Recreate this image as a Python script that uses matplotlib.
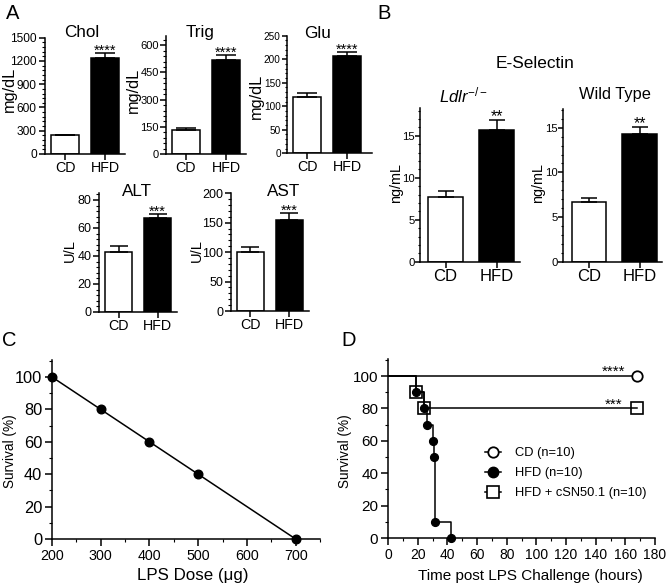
import numpy as np
import matplotlib
matplotlib.use('Agg')
from matplotlib import pyplot as plt
from matplotlib.ticker import MultipleLocator
from matplotlib.lines import Line2D

plt.rcParams['font.family'] = ['Liberation Sans', 'DejaVu Sans']
plt.rcParams['mathtext.fontset'] = 'custom'
plt.rcParams['mathtext.rm'] = 'Liberation Sans'
plt.rcParams['mathtext.it'] = 'Liberation Sans:italic'

#---------------
# Data
#---------------
groups = ['CD', 'HFD']

chol = [245, 1242]
chol_err = [6, 57]
trig = [132, 517]
trig_err = [9, 28]
glu = [119, 207]
glu_err = [8.5, 8]
alt = [43, 67]
alt_err = [4, 3]
ast = [100.5, 154.5]
ast_err = [7.5, 11.5]

esel_ldlr = [7.7, 15.7]
esel_ldlr_err = [0.75, 1.2]
esel_wt = [6.7, 14.3]
esel_wt_err = [0.45, 0.8]

# panel C: dose response
lps_dose = [200, 300, 400, 500, 700]
lps_surv = [100, 80, 60, 40, 0]

# panel D: survival curves (time in hours, survival in %)
cd_t = [0, 168]
cd_s = [100, 100]
hfd_t = [0, 18.9, 24.5, 26, 30, 31, 31.8, 42.3]
hfd_s = [100, 90, 80, 70, 60, 50, 10, 0]
csn_t = [0, 18.9, 24.5, 168]
csn_s = [100, 90, 80, 80]

#---------------
# Figure helpers
#---------------
W, H = 668, 587
fig = plt.figure(figsize=(W / 100, H / 100), dpi=100)
LW = 1.1


def px_axes(left, right, top, bottom):
    return fig.add_axes([left / W, 1 - bottom / H, (right - left) / W, (bottom - top) / H])


def style_axes(ax, tick_fs, tlen=5, pad=2):
    for s in ['top', 'right']:
        ax.spines[s].set_visible(False)
    for s in ['left', 'bottom']:
        ax.spines[s].set_linewidth(LW)
    ax.tick_params(which='major', direction='out', length=tlen, width=LW, labelsize=tick_fs, pad=pad)
    ax.tick_params(which='minor', direction='out', length=tlen / 2, width=0.8)


def bar_panel(box, vals, errs, stars, ylim, major, minor, tick_fs, cat_fs, star_fs,
              cap=7, width=0.68, xlim=(-0.5, 1.5), tlen=5, pad=2):
    ax = px_axes(*box)
    x = np.arange(len(vals))
    ax.bar(x, vals, width, color=['white', 'black'], edgecolor='black', linewidth=LW, zorder=2)
    ax.errorbar(x, vals, yerr=[np.zeros(len(errs)), errs], fmt='none', ecolor='black',
                elinewidth=LW, capsize=cap, capthick=LW, zorder=3)
    for i in range(len(vals)):
        if stars[i]:
            ax.annotate(stars[i], (x[i], vals[i] + errs[i]), xytext=(0, -1),
                        textcoords='offset points', ha='center', va='baseline', fontsize=star_fs)
    ax.set_xlim(*xlim)
    ax.set_ylim(*ylim)
    ax.yaxis.set_major_locator(MultipleLocator(major))
    ax.yaxis.set_minor_locator(MultipleLocator(minor))
    style_axes(ax, tick_fs, tlen, pad)
    ax.set_xticks(x)
    ax.set_xticklabels(groups, fontsize=cat_fs)
    ax.tick_params(axis='x', length=4, pad=1)
    return ax


#===============
# Panel A
#===============
fig.text(6 / W, 1 - 4 / H, 'A', fontsize=14.5, va='top', ha='left')

bar_panel((45, 125, 37.7, 154), chol, chol_err, ['', '****'], (0, 1500), 300, 60, 8.6, 10.3, 10.5,
          tlen=4.5, pad=1.5)
bar_panel((166, 246, 36.2, 154), trig, trig_err, ['', '****'], (0, 650), 150, 30, 8.0, 10.3, 10.5,
          tlen=4, pad=1)
bar_panel((287, 372, 35.7, 153.3), glu, glu_err, ['', '****'], (0, 250), 50, 10, 7.2, 10.3, 10.5,
          xlim=(-0.5, 1.625), tlen=3.5, pad=1)
bar_panel((99, 177, 193, 312), alt, alt_err, ['', '***'], (0, 85), 20, 4, 9, 10.3, 10.5, cap=6.5,
          tlen=4, pad=1.5)
bar_panel((231, 309, 193.3, 311), ast, ast_err, ['', '***'], (0, 200), 50, 10, 9, 10.3, 10.5, cap=6.5,
          tlen=4, pad=1.5)

for xc, yb, t in [(81.7, 37, 'Chol'), (200, 37, 'Trig'), (318, 38, 'Glu'),
                  (137, 196, 'ALT'), (284, 196, 'AST')]:
    fig.text(xc / W, 1 - yb / H, t, fontsize=12.3, ha='center', va='baseline')

for xc, yc, t, fs in [(9, 89, 'mg/dL', 11.8), (133, 90, 'mg/dL', 11.8), (256, 96, 'mg/dL', 11.8),
                      (70, 250.5, 'U/L', 10.5), (197, 250.5, 'U/L', 10.5)]:
    fig.text(xc / W, 1 - yc / H, t, fontsize=fs, rotation=90, ha='center', va='center')

#===============
# Panel B
#===============
fig.text(377 / W, 1 - 4 / H, 'B', fontsize=14.5, va='top', ha='left')
bar_panel((420, 519.5, 108, 261.7), esel_ldlr, esel_ldlr_err, ['', '**'], (0, 18.3), 5, 1,
          8.2, 12, 11.5, cap=6, xlim=(-0.5, 1.45), tlen=3.5, pad=0.5)
bar_panel((563, 662, 109, 261.7), esel_wt, esel_wt_err, ['', '**'], (0, 17.1), 5, 1,
          8.2, 12, 11.5, cap=6, xlim=(-0.51, 1.44), tlen=3.5, pad=0.5)

fig.text(535 / W, 1 - 63 / H, 'E-Selectin', fontsize=12.4, ha='center', va='center')
fig.text(463 / W, 1 - 95 / H, r'$Ldlr^{-/-}$', fontsize=12, ha='center', va='center')
fig.text(615 / W, 1 - 95 / H, 'Wild Type', fontsize=11.8, ha='center', va='center')
for xc in [396, 538]:
    fig.text(xc / W, 1 - 183 / H, 'ng/mL', fontsize=10.4, rotation=90, ha='center', va='center')

#===============
# Panel C
#===============
fig.text(2 / W, 1 - 331 / H, 'C', fontsize=14.5, va='top', ha='left')
axc = px_axes(52, 320, 360, 539)
axc.plot(lps_dose, lps_surv, color='black', lw=LW, marker='o', ms=6.2, clip_on=False, zorder=3)
axc.set_xlim(200, 750)
axc.set_ylim(0, 110.5)
axc.xaxis.set_major_locator(MultipleLocator(100))
axc.xaxis.set_minor_locator(MultipleLocator(50))
axc.yaxis.set_major_locator(MultipleLocator(20))
axc.yaxis.set_minor_locator(MultipleLocator(10))
style_axes(axc, 11.8)
axc.tick_params(axis='x', labelsize=10.3)
axc.set_xticks([200, 300, 400, 500, 600, 700])
fig.text(192.5 / W, 1 - 580 / H, 'LPS Dose (\u03bcg)', fontsize=12.2, ha='center', va='baseline')
fig.text(10 / W, 1 - 451 / H, 'Survival (%)', fontsize=9.8, rotation=90, ha='center', va='center')

#===============
# Panel D
#===============
fig.text(341 / W, 1 - 331 / H, 'D', fontsize=14.5, va='top', ha='left')
axd = px_axes(388, 655, 359, 538)
axd.step(cd_t, cd_s, where='post', color='black', lw=LW, zorder=2)
axd.step(csn_t, csn_s, where='post', color='black', lw=LW, zorder=2)
axd.step(hfd_t, hfd_s, where='post', color='black', lw=LW, zorder=2)
axd.plot(csn_t[1:], csn_s[1:], ls='none', marker='s', ms=8, mfc='none', mec='black', mew=1.2,
         clip_on=False, zorder=3)
axd.plot(cd_t[1:], cd_s[1:], ls='none', marker='o', ms=7.5, mfc='white', mec='black', mew=1.3,
         clip_on=False, zorder=3)
axd.plot(hfd_t[1:], hfd_s[1:], ls='none', marker='o', ms=5.6, color='black', clip_on=False, zorder=4)
axd.annotate('****', (cd_t[-1], cd_s[-1]), xytext=(-17, 0), textcoords='offset points',
             ha='center', va='baseline', fontsize=11)
axd.annotate('***', (csn_t[-1], csn_s[-1]), xytext=(-17, 0), textcoords='offset points',
             ha='center', va='baseline', fontsize=11)
axd.set_xlim(0, 180)
axd.set_ylim(0, 110.5)
axd.xaxis.set_major_locator(MultipleLocator(20))
axd.xaxis.set_minor_locator(MultipleLocator(10))
axd.yaxis.set_major_locator(MultipleLocator(20))
axd.yaxis.set_minor_locator(MultipleLocator(10))
style_axes(axd, 11)
axd.tick_params(axis='x', labelsize=10)

handles = [Line2D([], [], color='black', lw=LW, marker='o', ms=7.5, mfc='white', mec='black', mew=1.3),
           Line2D([], [], color='black', lw=LW, marker='o', ms=7.5),
           Line2D([], [], color='black', lw=LW, marker='s', ms=8, mfc='white', mec='black', mew=1.2)]
fig.legend(handles, ['CD (n=10)', 'HFD (n=10)', 'HFD + cSN50.1 (n=10)'],
           loc='upper left', bbox_to_anchor=(485 / W, 1 - 447 / H), frameon=False,
           fontsize=9.3, handlelength=1.2, handletextpad=1.1, labelspacing=0.62,
           borderpad=0, borderaxespad=0)
fig.text(345 / W, 1 - 451 / H, 'Survival (%)', fontsize=9.8, rotation=90, ha='center', va='center')
fig.text(530 / W, 1 - 580 / H, 'Time post LPS Challenge (hours)', fontsize=11, ha='center', va='baseline')

plt.savefig('out.png', dpi=100)
